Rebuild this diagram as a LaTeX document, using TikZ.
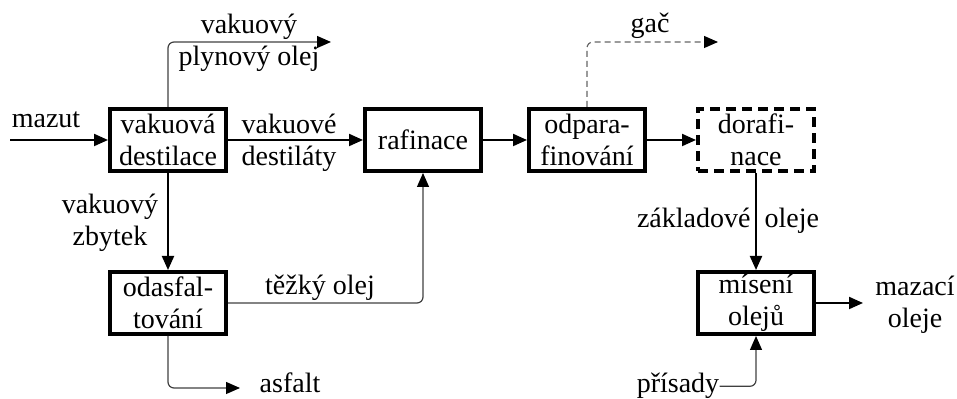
\documentclass[tikz,border=0pt]{standalone}
\usepackage{fontspec}
\setmainfont{Liberation Serif}
\usetikzlibrary{arrows.meta}
\begin{document}
\begin{tikzpicture}[x=0.5pt,y=-0.5pt,
  font=\fontsize{14}{16}\selectfont,
  stepbox/.style={draw, line width=2pt, minimum width=58pt, minimum height=31pt, inner sep=0pt, align=center},
  dstepbox/.style={stepbox, dash pattern=on 5pt off 3pt},
  mainarrow/.style={line width=1pt, -{Triangle[length=7pt,width=6pt]}},
  thinarrow/.style={line width=0.6pt, draw=black!75, rounded corners=3pt, -{Triangle[length=7pt,width=6pt,color=black]}},
  dasharrow/.style={thinarrow, draw=black!60, dash pattern=on 3pt off 2pt},
  lbl/.style={inner sep=0pt, align=center}]
\useasboundingbox (0,0) rectangle (957,399);
% boxes
\node[stepbox] (A) at (168,140) {vakuová\\destilace};
\node[stepbox] (R) at (423,140) {rafinace};
\node[stepbox] (O) at (587,140) {odpara-\\finování};
\node[dstepbox] (D) at (756,140) {dorafi-\\nace};
\node[stepbox] (S) at (168,303) {odasfal-\\tování};
\node[stepbox] (M) at (756,303) {mísení\\olejů};
% free ends
\coordinate (mz) at (10,140);
\coordinate (vpo) at (331,42);
\coordinate (asf) at (240,388);
\coordinate (gc) at (718,42);
\coordinate (mo) at (863,303);
% labels
\node[lbl, anchor=base] (lmz) at (46,128) {mazut};
\node[lbl] (lvpo) at (249,43) {vakuový\\plynový olej};
\node[lbl] (lvd) at (289,143) {vakuové\\destiláty};
\node[lbl] (lvz) at (110,223) {vakuový\\zbytek};
\node[lbl, anchor=base] (lto) at (320,295) {těžký olej};
\node[lbl, anchor=base] (las) at (290,393) {asfalt};
\node[lbl, anchor=base] (lgc) at (650,33) {gač};
\node[lbl, anchor=base] (lzo) at (728,228) {základové\enspace oleje};
\node[lbl] (lmo) at (915,305) {mazací\\oleje};
\node[lbl, anchor=base] (pr) at (678,393) {přísady};
% connectors
\draw[mainarrow] (mz) -- (A.west);
\draw[mainarrow] (A.east) -- (R.west);
\draw[mainarrow] (A.south) -- (S.north);
\draw[mainarrow] (R.east) -- (O.west);
\draw[mainarrow] (O.east) -- (D.west);
\draw[mainarrow] (D.south) -- (M.north);
\draw[mainarrow] (M.east) -- (mo);
\draw[thinarrow] (A.north) |- (vpo);
\draw[thinarrow] (S.east) -| (R.south);
\draw[thinarrow] (S.south) |- (asf);
\draw[dasharrow] (O.north) |- (gc);
\draw[thinarrow] (pr.east) -| (M.south);
\end{tikzpicture}
\end{document}
